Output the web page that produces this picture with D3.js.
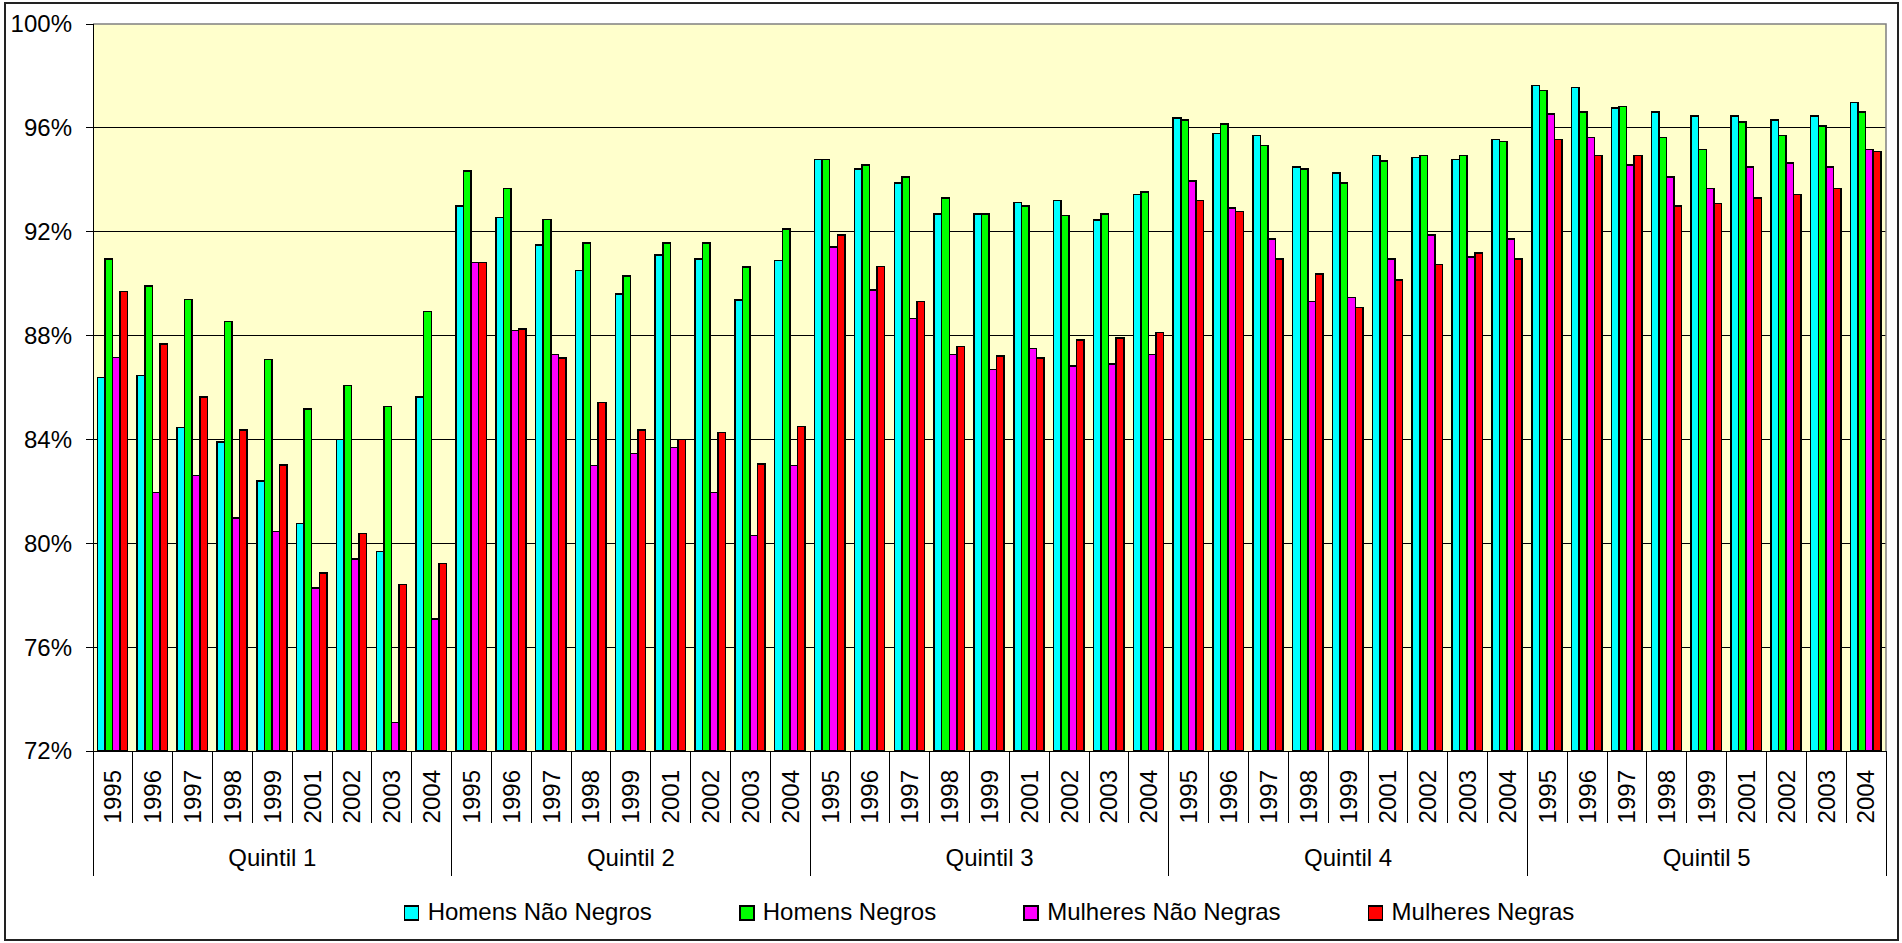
<!DOCTYPE html>
<html>
<head>
<meta charset="utf-8">
<script src="https://cdn.jsdelivr.net/npm/d3@7"></script>
<style>
  body { margin: 0; background: #fff; }
  text { font-family: "Liberation Sans", Arial, sans-serif; fill: #000; }
  line, rect { shape-rendering: crispEdges; }
</style>
</head>
<body>
<div class="chart"></div>
<script>
// categories
var quintiles = ["Quintil 1", "Quintil 2", "Quintil 3", "Quintil 4", "Quintil 5"];
var years = ["1995", "1996", "1997", "1998", "1999", "2001", "2002", "2003", "2004"];
var seriesNames = ["Homens Não Negros", "Homens Negros", "Mulheres Não Negras", "Mulheres Negras"];
var seriesColors = ["#00ffff", "#00ff00", "#ff00ff", "#ff0000"];
var yTicks = [72, 76, 80, 84, 88, 92, 96, 100];

// values in %, 9 years per quintile, quintil 1 -> 5
var homensNaoNegros = [
  86.38, 86.46, 84.46, 83.91, 82.39, 80.76, 83.99, 79.69, 85.63,
  93.00, 92.54, 91.48, 90.51, 89.60, 91.10, 90.95, 89.37, 90.89,
  94.78, 94.42, 93.88, 92.69, 92.69, 93.13, 93.21, 92.46, 93.44,
  96.38, 95.78, 95.70, 94.50, 94.27, 94.94, 94.86, 94.78, 95.55,
  97.64, 97.56, 96.76, 96.61, 96.45, 96.45, 96.30, 96.45, 96.97
];
var homensNegros = [
  90.95, 89.91, 89.39, 88.55, 87.07, 85.17, 86.08, 85.27, 88.93,
  94.34, 93.67, 92.48, 91.56, 90.30, 91.56, 91.56, 90.64, 92.10,
  94.78, 94.57, 94.11, 93.29, 92.69, 93.00, 92.62, 92.69, 93.52,
  96.30, 96.14, 95.32, 94.42, 93.88, 94.73, 94.94, 94.94, 95.47,
  97.43, 96.61, 96.82, 95.63, 95.17, 96.22, 95.70, 96.07, 96.61
];
var mulheresNaoNegras = [
  87.15, 81.95, 82.62, 80.97, 80.46, 78.27, 79.40, 73.09, 77.08,
  90.81, 88.20, 87.28, 82.99, 83.45, 83.68, 81.95, 80.30, 82.99,
  91.41, 89.76, 88.65, 87.28, 86.69, 87.50, 86.82, 86.90, 87.28,
  93.96, 92.92, 91.71, 89.32, 89.47, 90.95, 91.87, 91.02, 91.71,
  96.53, 95.63, 94.57, 94.11, 93.67, 94.50, 94.65, 94.50, 95.17
];
var mulheresNegras = [
  89.70, 87.67, 85.63, 84.37, 83.01, 78.86, 80.38, 78.42, 79.23,
  90.81, 88.26, 87.13, 85.42, 84.37, 83.99, 84.27, 83.06, 84.50,
  91.87, 90.66, 89.32, 87.57, 87.21, 87.13, 87.82, 87.90, 88.11,
  93.21, 92.77, 90.95, 90.37, 89.09, 90.14, 90.74, 91.18, 90.95,
  95.55, 94.94, 94.94, 93.00, 93.08, 93.29, 93.44, 93.67, 95.09
];

var NS = {};
NS.width = 1902;
NS.height = 943;
NS.left = 93;
NS.right = 1886;
NS.top = 24;
NS.bottom = 751;
NS.fontSize = 24;

function main() {
  var series = [homensNaoNegros, homensNegros, mulheresNaoNegras, mulheresNegras];

  // one row per quintile/year pair
  var rows = [];
  quintiles.forEach(function(q, qi) {
    years.forEach(function(y, yi) {
      var idx = qi * years.length + yi;
      rows.push({
        key: q + "|" + y, quintil: q, year: y,
        values: series.map(function(s) { return s[idx]; })
      });
    });
  });

  var svg = d3.select(".chart").append("svg")
      .attr("width", NS.width)
      .attr("height", NS.height);

  // outer chart border
  svg.append("rect")
    .attr("x", 5).attr("y", 3)
    .attr("width", 1893).attr("height", 937)
    .attr("fill", "#fff")
    .attr("stroke", "#222")
    .attr("stroke-width", 2);

  var x0 = d3.scaleBand()
    .domain(rows.map(function(d) { return d.key; }))
    .range([NS.left, NS.right])
    .padding(0);
  var bw = x0.bandwidth();
  var x1 = d3.scaleBand()
    .domain(d3.range(series.length))
    .range([bw * 0.11, bw * 0.87]);
  var y = d3.scaleLinear()
    .domain([72, 100])
    .range([NS.bottom, NS.top]);

  // plot background
  svg.append("rect")
    .attr("x", NS.left).attr("y", NS.top)
    .attr("width", NS.right - NS.left)
    .attr("height", NS.bottom - NS.top)
    .attr("fill", "#ffffcc");

  // gridlines
  svg.append("g").selectAll("line")
    .data(yTicks.filter(function(t) { return t > 72 && t < 100; }))
    .enter().append("line")
      .attr("x1", NS.left).attr("x2", NS.right)
      .attr("y1", function(d) { return y(d); })
      .attr("y2", function(d) { return y(d); })
      .attr("stroke", "#000")
      .attr("stroke-width", 1);

  // top + right plot border (grey)
  svg.append("path")
    .attr("d", "M" + NS.left + "," + NS.top + "H" + NS.right + "V" + NS.bottom)
    .attr("fill", "none")
    .attr("stroke", "#808080")
    .attr("stroke-width", 1.5);

  // bars
  var groups = svg.append("g").selectAll("g")
    .data(rows)
    .enter().append("g")
      .attr("transform", function(d) { return "translate(" + x0(d.key) + ",0)"; });
  groups.selectAll("rect")
    .data(function(d) { return d.values; })
    .enter().append("rect")
      .attr("x", function(d, i) { return x1(i); })
      .attr("y", function(d) { return y(d); })
      .attr("width", x1.bandwidth())
      .attr("height", function(d) { return y(72) - y(d); })
      .attr("fill", function(d, i) { return seriesColors[i]; })
      .attr("stroke", "#000")
      .attr("stroke-width", 1.5);

  // y axis
  var yAxis = svg.append("g");
  yAxis.append("line")
    .attr("x1", NS.left).attr("x2", NS.left)
    .attr("y1", NS.top).attr("y2", NS.bottom)
    .attr("stroke", "#000");
  yAxis.selectAll(".tick")
    .data(yTicks)
    .enter().append("line")
      .attr("class", "tick")
      .attr("x1", NS.left - 7).attr("x2", NS.left)
      .attr("y1", function(d) { return y(d); })
      .attr("y2", function(d) { return y(d); })
      .attr("stroke", "#000");
  yAxis.selectAll("text")
    .data(yTicks)
    .enter().append("text")
      .attr("x", 72)
      .attr("y", function(d) { return y(d); })
      .attr("dy", "0.35em")
      .attr("text-anchor", "end")
      .style("font-size", NS.fontSize + "px")
      .text(function(d) { return d + "%"; });

  // x axis with two label levels
  var xAxis = svg.append("g");
  xAxis.append("line")
    .attr("x1", NS.left).attr("x2", NS.right)
    .attr("y1", NS.bottom).attr("y2", NS.bottom)
    .attr("stroke", "#000");
  var bounds = d3.range(rows.length + 1);
  xAxis.selectAll(".sep")
    .data(bounds)
    .enter().append("line")
      .attr("class", "sep")
      .attr("x1", function(i) { return NS.left + i * bw; })
      .attr("x2", function(i) { return NS.left + i * bw; })
      .attr("y1", NS.bottom)
      .attr("y2", function(i) { return i % years.length == 0 ? 876 : 823; })
      .attr("stroke", "#000");
  xAxis.selectAll(".year")
    .data(rows)
    .enter().append("text")
      .attr("class", "year")
      .attr("transform", function(d) {
        return "translate(" + (x0(d.key) + bw / 2) + "," + (NS.bottom + 19) + ") rotate(-90)";
      })
      .attr("dy", "0.35em")
      .attr("text-anchor", "end")
      .style("font-size", NS.fontSize + "px")
      .text(function(d) { return d.year; });
  xAxis.selectAll(".quintil")
    .data(quintiles)
    .enter().append("text")
      .attr("class", "quintil")
      .attr("x", function(q, qi) { return NS.left + (qi + 0.5) * years.length * bw; })
      .attr("y", 866)
      .attr("text-anchor", "middle")
      .style("font-size", NS.fontSize + "px")
      .text(function(d) { return d; });

  // legend, laid out in a row and centred on the plot
  var legend = svg.append("g");
  var items = legend.selectAll("g")
    .data(seriesNames)
    .enter().append("g");
  items.append("rect")
    .attr("x", 0).attr("y", 906)
    .attr("width", 14).attr("height", 14)
    .attr("fill", function(d, i) { return seriesColors[i]; })
    .attr("stroke", "#000")
    .attr("stroke-width", 1.5);
  items.append("text")
    .attr("x", 23).attr("y", 920)
    .style("font-size", NS.fontSize + "px")
    .text(function(d) { return d; });
  var gap = 88, widths = [];
  items.each(function() { widths.push(this.getBBox().width); });
  var total = d3.sum(widths) + gap * (widths.length - 1);
  var pos = (NS.left + NS.right) / 2 - total / 2;
  items.attr("transform", function(d, i) {
    var tx = pos;
    pos += widths[i] + gap;
    return "translate(" + tx + ",0)";
  });
}

main();
</script>
</body>
</html>
